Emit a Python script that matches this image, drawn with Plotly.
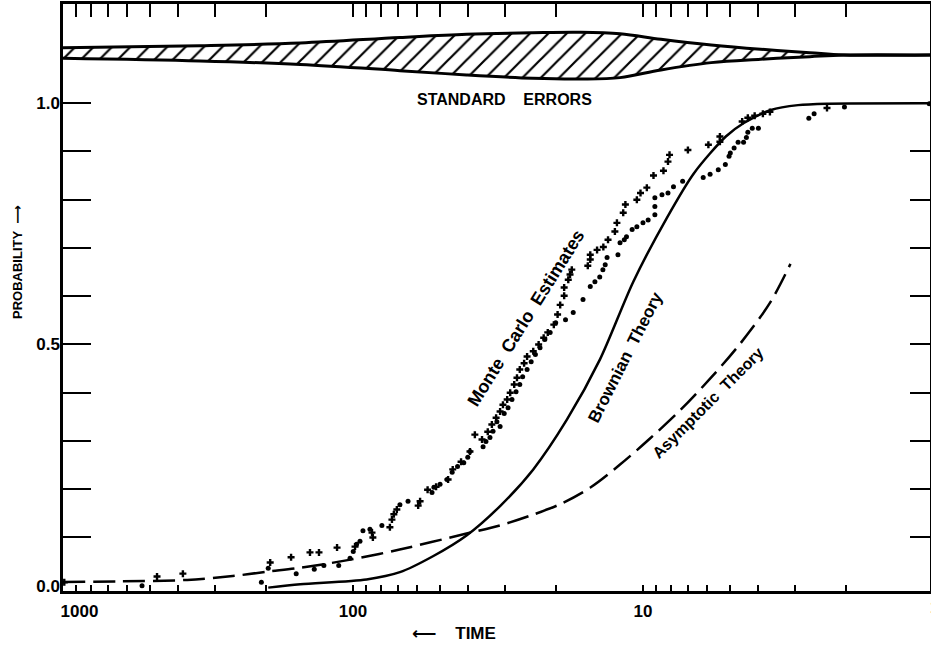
import plotly.graph_objects as go

# ---------------- data ----------------
band_t = [1000, 337, 152, 68.9, 40.6, 24, 16.5, 12.0, 8.67, 5.82, 3.93, 2.66, 2.03, 1.0]
band_upper = [1.1151, 1.1193, 1.1248, 1.1362, 1.1429, 1.1460, 1.1470, 1.1439, 1.1325, 1.1207, 1.1118, 1.1048, 1.100, 1.100]
band_lower = [1.0932, 1.0876, 1.0803, 1.0675, 1.0586, 1.0518, 1.0503, 1.0530, 1.0690, 1.0841, 1.0911, 1.0965, 1.100, 1.100]

brown_t = [196, 152, 89.8, 68.9, 53.0, 40.6, 31.1, 23.9, 18.3, 14.07, 10.8, 8.28, 6.67, 5.18, 4.49, 3.62, 2.92, 2.30, 1.0]
brown_p = [-0.004, 0.003, 0.013, 0.028, 0.061, 0.104, 0.165, 0.241, 0.344, 0.469, 0.630, 0.762, 0.855, 0.931, 0.959, 0.986, 0.996, 0.999, 1.0]

asym_t = [1000, 636, 373, 260, 198, 152, 102, 69, 40.6, 31.1, 24, 19.3, 15.23, 12.0, 9.46, 7.46, 5.87, 4.63, 3.65, 3.1]
asym_p = [0.0075, 0.009, 0.012, 0.020, 0.029, 0.037, 0.054, 0.075, 0.108, 0.125, 0.147, 0.169, 0.203, 0.251, 0.305, 0.363, 0.429, 0.501, 0.586, 0.667]

plus_t = [990, 474, 386, 193, 163.5, 140.7, 131, 113.5, 98.4, 85.4, 86, 74.6, 73.4, 72.3, 70.6, 59.6, 58.7, 55.3, 51.7, 47,
          45.3, 42.4, 39.5, 38, 35.9, 34.3, 33.2, 32.1, 31.1, 30.4, 29.4, 28.7, 27.8, 27.2, 26.6, 25.7, 25.1, 23.9, 22.9, 22.0,
          21.3, 20.3, 19.7, 19.3, 18.7, 18.7, 18.1, 17.85, 17.6, 15.5, 15.2, 15.2, 14.4, 13.7, 13.2, 12.5, 12.3, 11.7, 11.5, 10.5,
          10.2, 9.7, 9.2, 8.5, 8.2, 8.1, 7.0, 5.95, 5.43, 5.43, 4.55, 4.35, 4.12, 3.86, 3.65, 2.32]
plus_p = [0.007, 0.019, 0.025, 0.048, 0.059, 0.069, 0.069, 0.079, 0.081, 0.100, 0.110, 0.121, 0.137, 0.148, 0.158, 0.166, 0.175, 0.199, 0.205, 0.220,
          0.241, 0.257, 0.278, 0.313, 0.303, 0.319, 0.334, 0.348, 0.361, 0.375, 0.386, 0.400, 0.417, 0.431, 0.448, 0.461, 0.475, 0.486, 0.500, 0.514,
          0.525, 0.541, 0.562, 0.582, 0.601, 0.618, 0.634, 0.645, 0.655, 0.663, 0.676, 0.686, 0.696, 0.702, 0.717, 0.734, 0.752, 0.773, 0.790, 0.800,
          0.814, 0.825, 0.850, 0.860, 0.879, 0.893, 0.903, 0.914, 0.920, 0.931, 0.962, 0.970, 0.974, 0.978, 0.982, 0.990]

dot_t = [534, 207, 196, 157, 136, 126, 112, 102.4, 99.8, 97.2, 94.6, 92.4, 87.4, 79.5, 68.9, 64.6, 53.4, 52.6, 50.1, 47.4,
         45.5, 43.6, 41.5, 40.2, 39.5, 35.6, 34.8, 33.7, 32.9, 31.9, 31.1, 30.1, 29.2, 28.3, 27.4, 26.6, 26.0, 25.1, 24.3, 23.5,
         22.65, 21.8, 20.9, 20.0, 18.5, 17.4, 16.1, 15.2, 14.65, 14.1, 13.75, 13.5, 13.3, 12.2, 12.0, 11.6, 11.4, 10.9, 10.5, 10.0,
         9.6, 9.1, 9.1, 9.1, 8.6, 8.2, 7.85, 7.3, 6.2, 5.87, 5.5, 5.2, 5.05, 5.0, 4.85, 4.7, 4.5, 4.4, 4.35, 4.2,
         4.0, 2.68, 2.57, 2.02, 1.03]
dot_p = [0.0, 0.007, 0.036, 0.025, 0.034, 0.042, 0.042, 0.057, 0.071, 0.086, 0.092, 0.114, 0.117, 0.125, 0.168, 0.175, 0.193, 0.204, 0.210, 0.220,
         0.235, 0.247, 0.255, 0.266, 0.278, 0.288, 0.299, 0.307, 0.320, 0.340, 0.330, 0.357, 0.369, 0.386, 0.402, 0.417, 0.433, 0.448, 0.464, 0.479,
         0.493, 0.510, 0.525, 0.545, 0.551, 0.566, 0.593, 0.620, 0.630, 0.640, 0.655, 0.665, 0.680, 0.686, 0.711, 0.717, 0.723, 0.738, 0.744, 0.752,
         0.758, 0.769, 0.786, 0.804, 0.810, 0.814, 0.827, 0.838, 0.846, 0.853, 0.862, 0.873, 0.890, 0.897, 0.907, 0.919, 0.919, 0.929, 0.940, 0.948,
         0.948, 0.969, 0.978, 0.992, 0.999]

x_tick_vals = [1000, 900, 800, 700, 600, 500, 400, 300, 200,
               100, 90, 80, 70, 60, 50, 40, 30, 20,
               10, 9, 8, 7, 6, 5, 4, 3, 2]
x_tick_labels = {1000: "\u00a0" * 7 + "1000", 100: "100", 10: "10"}
y_tick_vals = [0.1, 0.2, 0.3, 0.4, 0.5, 0.6, 0.7, 0.8, 0.9, 1.0]
y_label_vals = [0.0, 0.5, 1.0]
y_label_text = ["0.0", "0.5", "1.0"]

# ---------------- figure ----------------
W, H = 931, 647
L, R, T, B = 63, 1, 4, 56
XR = [3, 0.0103]
YR = [-0.011, 1.2056]
FONT = "Liberation Sans, Arial, Helvetica, DejaVu Sans, sans-serif"

fig = go.Figure()

# standard-error band (on the top/right axes, which match the main ones)
fig.add_trace(go.Scatter(x=band_t, y=band_lower, mode="lines", xaxis="x2", yaxis="y2",
                         line=dict(color="black", width=3, shape="spline", smoothing=1.0),
                         hoverinfo="skip", showlegend=False))
fig.add_trace(go.Scatter(x=band_t, y=band_upper, mode="lines", xaxis="x2", yaxis="y2",
                         fill="tonexty", fillcolor="white",
                         fillpattern=dict(shape="/", size=13, solidity=0.17, fgcolor="black",
                                          bgcolor="white", fgopacity=1),
                         line=dict(color="black", width=3, shape="spline", smoothing=1.0),
                         hoverinfo="skip", showlegend=False))

# theory curves
fig.add_trace(go.Scatter(x=asym_t, y=asym_p, mode="lines",
                         line=dict(color="black", width=2.5, dash="22px,8px", shape="spline", smoothing=0.9),
                         showlegend=False))
fig.add_trace(go.Scatter(x=brown_t, y=brown_p, mode="lines",
                         line=dict(color="black", width=2.5, shape="spline", smoothing=0.8),
                         showlegend=False))

# Monte Carlo estimates
fig.add_trace(go.Scatter(x=plus_t, y=plus_p, mode="markers", yaxis="y3",
                         marker=dict(symbol="cross-thin", size=5, color="black",
                                     line=dict(color="black", width=2.4)),
                         showlegend=False))
fig.add_trace(go.Scatter(x=dot_t, y=dot_p, mode="markers",
                         marker=dict(symbol="circle", size=5, color="black"),
                         showlegend=False))

tickfont = dict(family=FONT, size=17, color="black", weight="bold")

fig.update_layout(
    width=W, height=H,
    margin=dict(l=L, r=R, t=T, b=B, pad=0, autoexpand=False),
    paper_bgcolor="white", plot_bgcolor="white",
    showlegend=False,
    xaxis=dict(type="log", range=XR, autorange=False, anchor="y", automargin=False,
               tickmode="array", tickvals=x_tick_vals,
               ticktext=[x_tick_labels.get(v, "") for v in x_tick_vals],
               ticks="inside", ticklen=6, tickwidth=1.6, tickcolor="black",
               showline=True, linewidth=3, linecolor="black", mirror=True,
               showgrid=False, zeroline=False, tickfont=tickfont, ticklabelstandoff=3),
    xaxis2=dict(type="log", range=XR, autorange=False, overlaying="x", side="top",
                anchor="y2", matches="x", automargin=False,
                tickmode="array", tickvals=x_tick_vals, showticklabels=False,
                ticks="inside", ticklen=13, tickwidth=1.8, tickcolor="black",
                showline=False, showgrid=False, zeroline=False),
    yaxis=dict(range=YR, autorange=False, anchor="x", automargin=False,
               tickmode="array", tickvals=y_tick_vals, showticklabels=False,
               ticks="inside", ticklen=28, tickwidth=2, tickcolor="black",
               showline=True, linewidth=3, linecolor="black", mirror=True,
               showgrid=False, zeroline=False),
    yaxis2=dict(range=YR, autorange=False, overlaying="y", side="right", anchor="x2", matches="y",
                automargin=False,
                tickmode="array", tickvals=y_tick_vals, showticklabels=False,
                ticks="inside", ticklen=20, tickwidth=2, tickcolor="black",
                showline=False, showgrid=False, zeroline=False),
    yaxis3=dict(range=YR, autorange=False, overlaying="y", side="left", anchor="x", matches="y",
                automargin=False,
                tickmode="array", tickvals=y_label_vals, ticktext=y_label_text,
                ticks="", showline=False, showgrid=False, zeroline=False,
                tickfont=tickfont, ticklabelstandoff=2),
)


def px_to_paper(px, py):
    return (px - L) / (W - L - R), (H - B - py) / (H - T - B)


def label(text, px, py, angle=0, size=14):
    x, y = px_to_paper(px, py)
    fig.add_annotation(x=x, y=y, xref="paper", yref="paper", text=text, showarrow=False,
                       textangle=angle, xanchor="center", yanchor="middle",
                       font=dict(family=FONT, size=size, color="black", weight="bold"))


label("STANDARD\u00a0\u00a0\u00a0\u00a0ERRORS", 505, 99, 0, 16)
label("Monte\u00a0\u00a0Carlo\u00a0\u00a0Estimates", 526, 318, -58, 18)
label("Brownian\u00a0\u00a0Theory", 625, 357, -63, 17)
label("Asymptotic\u00a0\u00a0Theory", 707, 403, -45, 16)
label("\u27f5\u00a0\u00a0\u00a0\u00a0TIME", 454, 633, 0, 17)
label("PROBABILITY\u00a0\u00a0\u27f6", 17, 262, -90, 13)
label("1", 934, 607, 0, 17)

fig.write_html("out.html", config={"displayModeBar": False},
               post_script="document.body.style.margin='0';document.body.style.overflow='hidden';")
